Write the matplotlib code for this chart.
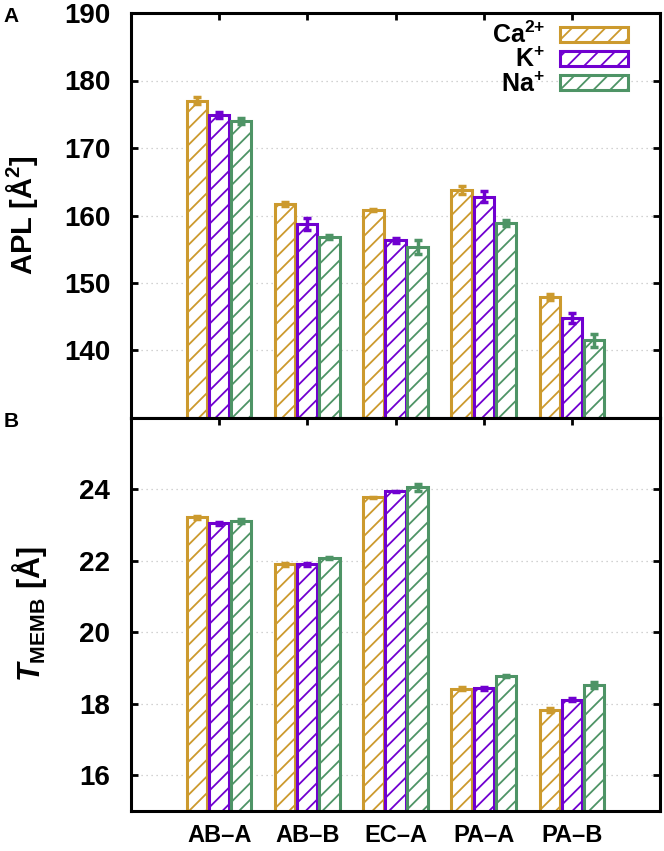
import numpy as np
import matplotlib
matplotlib.use("Agg")
import matplotlib.pyplot as plt

plt.rcParams['font.family'] = ['Liberation Sans', 'DejaVu Sans']
plt.rcParams['font.weight'] = 'bold'
plt.rcParams['mathtext.fontset'] = 'custom'
plt.rcParams['mathtext.rm'] = 'Liberation Sans:bold'
plt.rcParams['mathtext.bf'] = 'Liberation Sans:bold'
plt.rcParams['mathtext.it'] = 'Liberation Sans:italic:bold'
plt.rcParams['hatch.linewidth'] = 1.3

# Dados
categorias = ['AB–A', 'AB–B', 'EC–A', 'PA–A', 'PA–B']
ions = ['Ca$^{2{+}}$', 'K$^{+}$', 'Na$^{+}$']
cores = ['#cc9a2e', '#7000d0', '#4e9466']

apl_ca = [177.0, 161.7, 160.8, 163.8, 147.9]
apl_k = [174.9, 158.7, 156.3, 162.8, 144.8]
apl_na = [174.0, 156.8, 155.3, 158.9, 141.5]
apl_ca_err = [0.5, 0.3, 0.2, 0.6, 0.4]
apl_k_err = [0.4, 0.9, 0.4, 0.8, 0.7]
apl_na_err = [0.5, 0.3, 1.0, 0.4, 1.0]

tm_ca = [23.22, 21.90, 23.78, 18.42, 17.82]
tm_k = [23.05, 21.90, 23.95, 18.43, 18.12]
tm_na = [23.12, 22.08, 24.06, 18.79, 18.53]
tm_ca_err = [0.05, 0.03, 0.02, 0.04, 0.05]
tm_k_err = [0.05, 0.05, 0.02, 0.05, 0.05]
tm_na_err = [0.05, 0.04, 0.10, 0.03, 0.08]

x = np.arange(1, len(categorias) + 1)
largura = 0.23
desloc = [-0.25, 0.0, 0.25]

fig = plt.figure(figsize=(6.64, 8.51), dpi=100)
ax1 = fig.add_axes([131/664, (851-418)/851, 529/664, 405/851])
ax2 = fig.add_axes([131/664, (851-811)/851, 529/664, 393/851])


def desenha(ax, series, erros):
    for i, (vals, errs) in enumerate(zip(series, erros)):
        ax.bar(x + desloc[i], vals, largura, facecolor='white', edgecolor=cores[i],
               hatch='//', linewidth=2.2, label=ions[i], zorder=2)
        ax.errorbar(x + desloc[i], vals, yerr=errs, fmt='none', ecolor=cores[i],
                    elinewidth=2.5, capsize=3, capthick=2.5, zorder=3)
    ax.set_xlim(0, 6)
    ax.set_xticks(x)
    ax.grid(axis='y', linestyle=(0, (1, 3)), color='#c4c4c4', linewidth=0.9, zorder=0)
    ax.set_axisbelow(True)
    for s in ax.spines.values():
        s.set_linewidth(2.2)
    ax.tick_params(direction='in', top=True, right=True, width=2, length=5,
                   labelsize=20, pad=15)


desenha(ax1, [apl_ca, apl_k, apl_na], [apl_ca_err, apl_k_err, apl_na_err])
ax1.set_ylim(130, 190)
ax1.set_yticks([140, 150, 160, 170, 180, 190])
ax1.set_xticklabels([])
ax1.set_ylabel('APL [Å$^{2}$]', fontsize=21, fontweight='bold')
ax1.yaxis.set_label_coords(-0.172, 0.5)
ax1.legend(loc='upper right', bbox_to_anchor=(0.972, 1.022), frameon=False,
           markerfirst=False, fontsize=18, handlelength=2.7, handleheight=0.55,
           labelspacing=0.0, handletextpad=0.6, borderpad=0.2)

desenha(ax2, [tm_ca, tm_k, tm_na], [tm_ca_err, tm_k_err, tm_na_err])
ax2.set_ylim(15, 26)
ax2.set_yticks([16, 18, 20, 22, 24])
ax2.set_xticklabels(categorias, fontsize=17, fontweight='bold')
ax2.tick_params(axis='x', pad=9)
ax2.set_ylabel('$T_{\\mathrm{MEMB}}$ [Å]', fontsize=22, fontweight='bold')
ax2.yaxis.set_label_coords(-0.155, 0.5)

fig.text(0.005, 0.974, 'A', fontsize=15, fontweight='bold')
fig.text(0.005, 0.498, 'B', fontsize=15, fontweight='bold')

fig.savefig('out.png', dpi=100)
